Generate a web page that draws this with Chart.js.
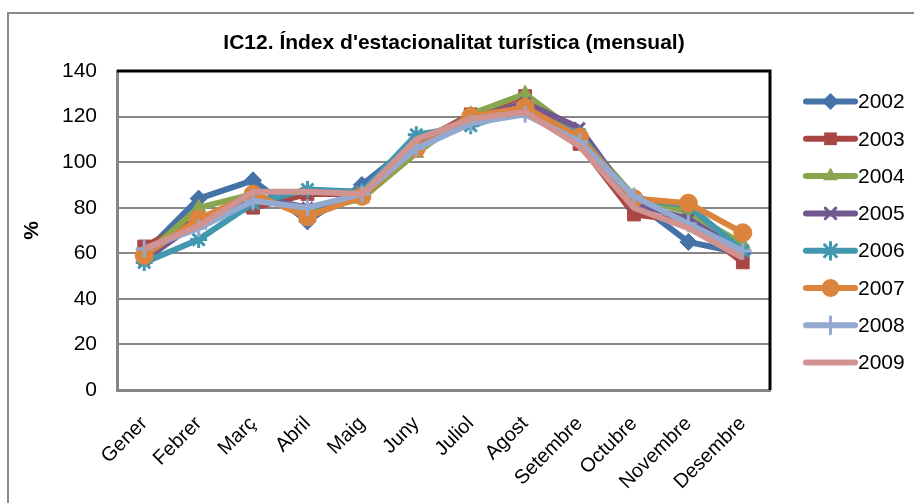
<!DOCTYPE html>
<html>
<head>
<meta charset="utf-8">
<style>
  html, body { margin: 0; padding: 0; background: #ffffff; }
  canvas { display: block; }
</style>
<script src="https://cdn.jsdelivr.net/npm/chart.js@4/dist/chart.umd.min.js"></script>
</head>
<body>
<canvas id="c" width="914" height="503"></canvas>
<script>
const chartTitle = "IC12. Índex d'estacionalitat turística (mensual)";
const yAxisTitle = "%";
const months = ["Gener", "Febrer", "Març", "Abril", "Maig", "Juny", "Juliol", "Agost", "Setembre", "Octubre", "Novembre", "Desembre"];
const years = ["2002", "2003", "2004", "2005", "2006", "2007", "2008", "2009"];

const v2002 = [60, 84, 92, 74, 90, 109, 120, 124, 111, 83, 65, 60];
const v2003 = [63, 75, 80, 86, 86, 108, 121, 129, 108, 77, 74, 56];
const v2004 = [59, 80, 86, 78, 84, 104, 121, 130, 112, 85, 78, 64];
const v2005 = [57, 74, 85, 80, 85, 107, 119, 126, 115, 82, 75, 61];
const v2006 = [56, 66, 82, 88, 87, 112, 116, 123, 112, 84, 81, 61];
const v2007 = [59, 75, 86, 76, 85, 106, 120, 124, 111, 84, 82, 69];
const v2008 = [62, 71, 83, 80, 86, 106, 117, 121, 109, 85, 73, 61];
const v2009 = [62, 72, 87, 87, 86, 110, 119, 122, 107, 80, 71, 58];
const seriesValues = [v2002, v2003, v2004, v2005, v2006, v2007, v2008, v2009];

const yMin = 0, yMax = 140, yStep = 20;

const colors = ["#4572A7", "#AA4643", "#89A54E", "#71588F", "#4198AF", "#DB843D", "#93A9CF", "#D19392"];
const pStyles = ["rectRot", "rect", "triangle", "crossRot", "star", "circle", "cross", false];
const pRadius = [8.5, 9, 8.5, 7.5, 8.5, 9, 8.5, 0];
const pBorder = [1, 1, 1, 3, 3, 1, 3, 0];

const FONT = "'Liberation Sans', Arial, sans-serif";

const datasets = years.map((y, i) => ({
  label: y,
  data: seriesValues[i],
  borderColor: colors[i],
  backgroundColor: colors[i],
  borderWidth: 6,
  pointStyle: pStyles[i],
  pointRadius: pRadius[i],
  pointBorderWidth: pBorder[i],
  pointBackgroundColor: colors[i],
  pointBorderColor: colors[i],
  tension: 0,
  order: years.length - i,
  clip: false
}));

function drawMarker(ctx, style, x, y, r, color, bw) {
  ctx.save();
  ctx.fillStyle = color;
  ctx.strokeStyle = color;
  ctx.lineWidth = bw;
  ctx.beginPath();
  if (style === 'rectRot') {
    ctx.moveTo(x, y - r); ctx.lineTo(x + r, y); ctx.lineTo(x, y + r); ctx.lineTo(x - r, y); ctx.closePath(); ctx.fill();
  } else if (style === 'rect') {
    const s = r * Math.SQRT1_2; ctx.rect(x - s, y - s, 2 * s, 2 * s); ctx.fill();
  } else if (style === 'triangle') {
    ctx.moveTo(x, y - r); ctx.lineTo(x + r * Math.sin(Math.PI / 3), y + r / 2); ctx.lineTo(x - r * Math.sin(Math.PI / 3), y + r / 2); ctx.closePath(); ctx.fill();
  } else if (style === 'circle') {
    ctx.arc(x, y, r, 0, Math.PI * 2); ctx.fill();
  } else if (style === 'crossRot') {
    const s = r * Math.SQRT1_2;
    ctx.moveTo(x - s, y - s); ctx.lineTo(x + s, y + s); ctx.moveTo(x + s, y - s); ctx.lineTo(x - s, y + s); ctx.stroke();
  } else if (style === 'cross') {
    ctx.moveTo(x, y - r); ctx.lineTo(x, y + r); ctx.moveTo(x - r, y); ctx.lineTo(x + r, y); ctx.stroke();
  } else if (style === 'star') {
    const s = r * Math.SQRT1_2;
    ctx.moveTo(x, y - r); ctx.lineTo(x, y + r); ctx.moveTo(x - r, y); ctx.lineTo(x + r, y);
    ctx.moveTo(x - s, y - s); ctx.lineTo(x + s, y + s); ctx.moveTo(x + s, y - s); ctx.lineTo(x - s, y + s); ctx.stroke();
  }
  ctx.restore();
}

const decor = {
  id: 'decor',
  beforeDraw(chart) {
    const ctx = chart.ctx;
    ctx.save();
    ctx.fillStyle = '#ffffff';
    ctx.fillRect(0, 0, chart.width, chart.height);
    ctx.strokeStyle = '#8a8a8a';
    ctx.lineWidth = 2;
    ctx.strokeRect(8, 13, chart.width + 20, chart.height + 20);
    ctx.fillStyle = '#000000';
    ctx.font = "bold 21px " + FONT;
    ctx.textAlign = 'center';
    ctx.textBaseline = 'middle';
    ctx.fillText(chartTitle, 454, 43);
    ctx.restore();
  },
  beforeDatasetsDraw(chart) {
    const ctx = chart.ctx;
    const a = chart.chartArea;
    ctx.save();
    ctx.strokeStyle = '#000000';
    ctx.lineWidth = 3;
    ctx.beginPath();
    ctx.moveTo(a.left, a.top);
    ctx.lineTo(a.right, a.top);
    ctx.lineTo(a.right, a.bottom);
    ctx.stroke();
    ctx.restore();
  },
  afterDraw(chart) {
    const ctx = chart.ctx;
    ctx.save();
    const x0 = 806, x1 = 855, yStart = 101.5, dy = 37.3;
    years.forEach((y, i) => {
      const yy = yStart + i * dy;
      ctx.strokeStyle = colors[i];
      ctx.lineWidth = 6;
      ctx.lineCap = 'round';
      ctx.beginPath();
      ctx.moveTo(x0, yy); ctx.lineTo(x1, yy); ctx.stroke();
      if (pStyles[i]) drawMarker(ctx, pStyles[i], (x0 + x1) / 2, yy, pRadius[i], colors[i], pBorder[i]);
      ctx.fillStyle = '#000000';
      ctx.font = "21px " + FONT;
      ctx.textAlign = 'left';
      ctx.textBaseline = 'middle';
      ctx.fillText(y, 858, yy + 1);
    });
    ctx.restore();
  }
};

new Chart(document.getElementById('c'), {
  type: 'line',
  data: { labels: months, datasets: datasets },
  options: {
    responsive: false,
    animation: false,
    devicePixelRatio: 1,
    layout: { padding: { left: 0, top: 71, right: 144, bottom: 0 } },
    plugins: {
      legend: { display: false },
      title: { display: false },
      tooltip: { enabled: false }
    },
    scales: {
      x: {
        type: 'category',
        offset: true,
        grid: { display: false, drawTicks: false },
        border: { display: true, color: '#868686', width: 3 },
        ticks: {
          color: '#000000',
          font: { family: FONT, size: 20 },
          minRotation: 45,
          maxRotation: 45,
          padding: 22,
          autoSkip: false
        },
        afterFit(scale) { scale.height = 113; }
      },
      y: {
        min: yMin,
        max: yMax,
        ticks: {
          stepSize: yStep,
          color: '#000000',
          font: { family: FONT, size: 21 },
          padding: 20
        },
        grid: { color: '#868686', lineWidth: 2, drawTicks: false },
        border: { display: true, color: '#868686', width: 3 },
        title: {
          display: true,
          text: yAxisTitle,
          color: '#000000',
          font: { family: FONT, size: 21, weight: 'bold' },
          padding: { top: 20, bottom: 0 }
        },
        afterFit(scale) { scale.width = 117; }
      }
    }
  },
  plugins: [decor]
});
</script>
</body>
</html>
